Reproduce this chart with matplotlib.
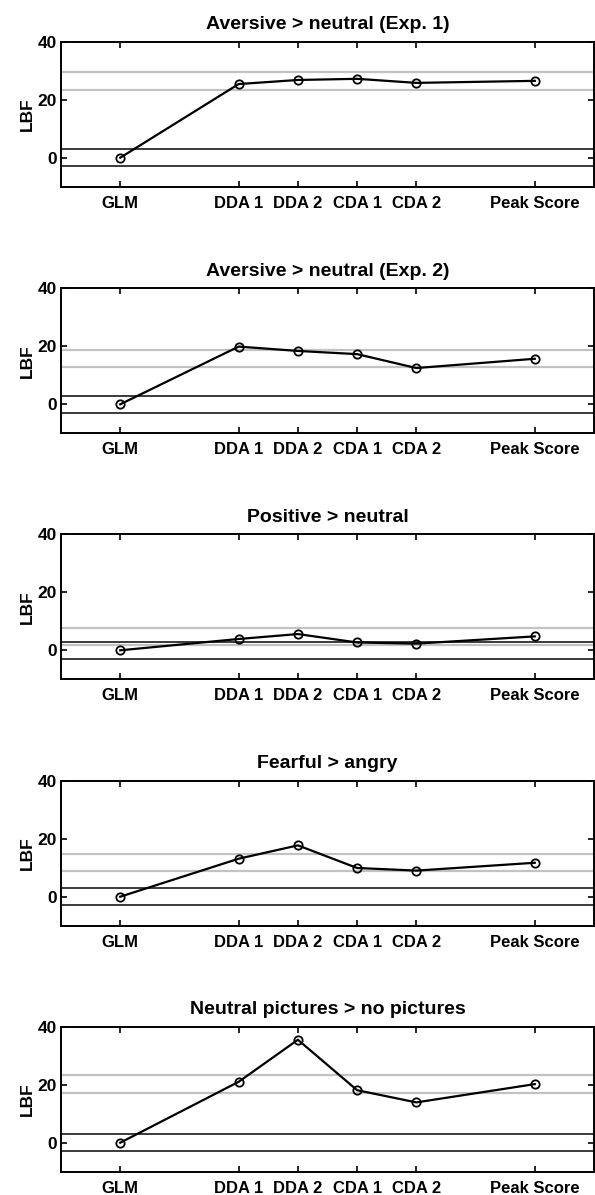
import numpy as np
import matplotlib.pyplot as plt

# methods on the x axis (spacing as in the original figure)
methods = ['GLM', 'DDA 1', 'DDA 2', 'CDA 1', 'CDA 2', 'Peak Score']
x_pos = [1, 3, 4, 5, 6, 8]

titles = ['Aversive > neutral (Exp. 1)',
          'Aversive > neutral (Exp. 2)',
          'Positive > neutral',
          'Fearful > angry',
          'Neutral pictures > no pictures']

# log Bayes factors
lbf_exp1 = [0, 25.4, 26.8, 27.2, 25.8, 26.5]
lbf_exp2 = [0, 19.9, 18.4, 17.3, 12.5, 15.7]
lbf_positive = [0, 3.9, 5.6, 2.7, 2.3, 4.8]
lbf_fearful = [0, 13.1, 17.7, 9.9, 9.0, 11.7]
lbf_neutral_pics = [0, 21.0, 35.5, 18.1, 13.9, 20.2]

all_lbf = [lbf_exp1, lbf_exp2, lbf_positive, lbf_fearful, lbf_neutral_pics]

# significance threshold (|LBF| > 3)
thresh = 3

plt.rcParams['font.family'] = ['Liberation Sans', 'DejaVu Sans']
plt.rcParams['font.weight'] = 'bold'

fig = plt.figure(figsize=(5.95, 11.95), dpi=100)
W, H = 595.0, 1195.0
left, right = 61, 594
tops = [41.7, 288.3, 534.3, 780.7, 1026.7]
height = 145

for i, (title, vals) in enumerate(zip(titles, all_lbf)):
    top = tops[i]
    ax = fig.add_axes([left / W, 1 - (top + height) / H, (right - left) / W, height / H])

    # threshold lines around zero and around the peak score
    ax.axhline(thresh, color='#3a3a3a', lw=1.4, zorder=1)
    ax.axhline(-thresh, color='#3a3a3a', lw=1.4, zorder=1)
    peak = vals[-1]
    ax.axhline(peak + thresh, color='#c2c2c2', lw=1.6, zorder=1)
    ax.axhline(peak - thresh, color='#c2c2c2', lw=1.6, zorder=1)

    ax.plot(x_pos, vals, color='black', lw=1.6, marker='o', markersize=6,
            markerfacecolor='none', markeredgewidth=1.3, zorder=3)

    ax.set_xlim(0, 9)
    ax.set_ylim(-10, 40)
    ax.set_xticks(x_pos)
    ax.set_xticklabels(methods, fontsize=12, fontweight='bold')
    ax.set_yticks([0, 20, 40])
    ax.set_yticklabels(['0', '20', '40'], fontsize=12.5, fontweight='bold')
    ax.tick_params(direction='in', length=4, width=1.2, top=True, right=True)
    ax.tick_params(axis='x', pad=6.5)
    ax.tick_params(axis='y', pad=3)
    ax.set_ylabel('LBF', fontsize=12.5, fontweight='bold', labelpad=2)
    ax.set_title(title, fontsize=14, fontweight='bold', pad=9)
    for s in ax.spines.values():
        s.set_linewidth(1.4)

fig.savefig('out.png', dpi=100)
